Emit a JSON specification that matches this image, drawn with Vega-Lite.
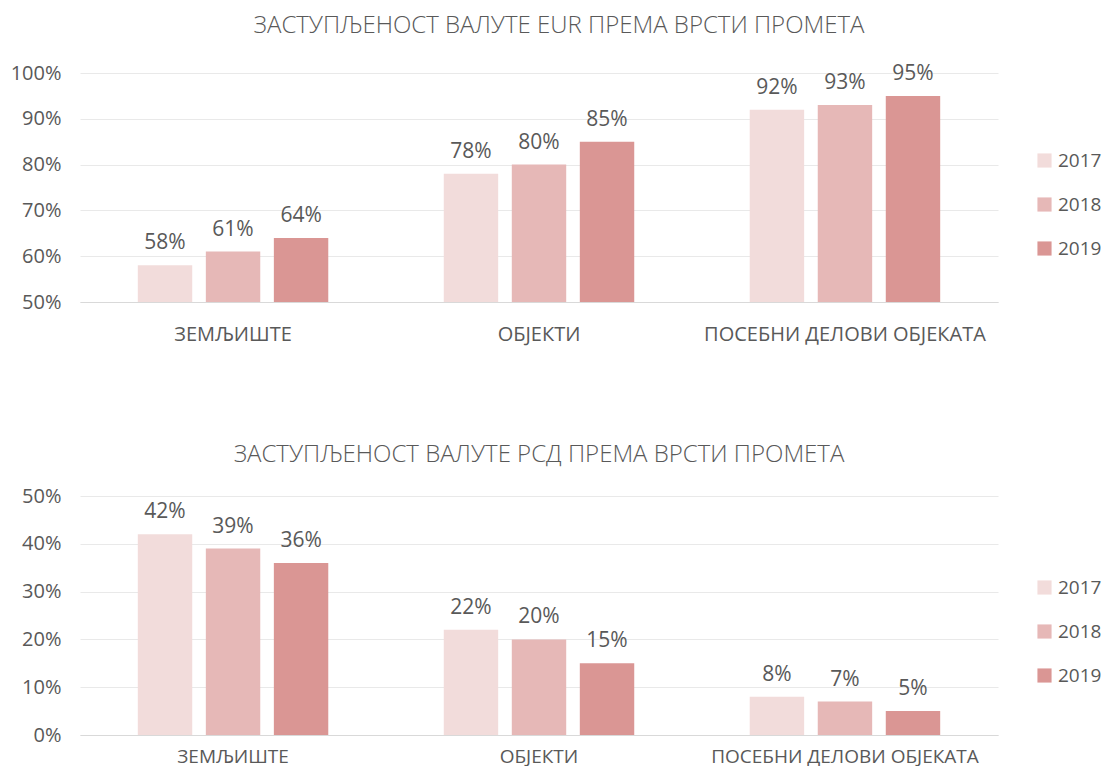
{
  "$schema": "https://vega.github.io/schema/vega-lite/v6.json",
  "padding": {"left": 10, "top": 13, "right": 5, "bottom": 0},
  "background": "white",
  "datasets": {
    "eur": [
      {"cat": "ЗЕМЉИШТЕ", "year": "2017", "v": 0.58},
      {"cat": "ЗЕМЉИШТЕ", "year": "2018", "v": 0.61},
      {"cat": "ЗЕМЉИШТЕ", "year": "2019", "v": 0.64},
      {"cat": "ОБЈЕКТИ", "year": "2017", "v": 0.78},
      {"cat": "ОБЈЕКТИ", "year": "2018", "v": 0.80},
      {"cat": "ОБЈЕКТИ", "year": "2019", "v": 0.85},
      {"cat": "ПОСЕБНИ ДЕЛОВИ ОБЈЕКАТА", "year": "2017", "v": 0.92},
      {"cat": "ПОСЕБНИ ДЕЛОВИ ОБЈЕКАТА", "year": "2018", "v": 0.93},
      {"cat": "ПОСЕБНИ ДЕЛОВИ ОБЈЕКАТА", "year": "2019", "v": 0.95}
    ],
    "rsd": [
      {"cat": "ЗЕМЉИШТЕ", "year": "2017", "v": 0.42},
      {"cat": "ЗЕМЉИШТЕ", "year": "2018", "v": 0.39},
      {"cat": "ЗЕМЉИШТЕ", "year": "2019", "v": 0.36},
      {"cat": "ОБЈЕКТИ", "year": "2017", "v": 0.22},
      {"cat": "ОБЈЕКТИ", "year": "2018", "v": 0.20},
      {"cat": "ОБЈЕКТИ", "year": "2019", "v": 0.15},
      {"cat": "ПОСЕБНИ ДЕЛОВИ ОБЈЕКАТА", "year": "2017", "v": 0.08},
      {"cat": "ПОСЕБНИ ДЕЛОВИ ОБЈЕКАТА", "year": "2018", "v": 0.07},
      {"cat": "ПОСЕБНИ ДЕЛОВИ ОБЈЕКАТА", "year": "2019", "v": 0.05}
    ]
  },
  "config": {
    "font": "Open Sans",
    "view": {"stroke": null},
    "axis": {"labelColor": "#595959", "ticks": false, "title": null, "labelLimit": 0},
    "axisX": {"domainColor": "#D9D9D9", "domainWidth": 1, "labelAngle": 0, "labelPadding": 22, "labelFontSize": 20, "grid": false},
    "axisY": {"domain": false, "gridColor": "#E9E9E9", "gridWidth": 1, "labelPadding": 19, "labelFontSize": 20, "format": ".0%"},
    "legend": {"labelColor": "#595959", "labelFontSize": 19, "symbolType": "square", "symbolSize": 200, "symbolStrokeWidth": 0, "rowPadding": 24, "labelOffset": 4, "padding": 0, "title": null},
    "title": {"color": "#595959", "fontSize": 24, "fontWeight": 300, "anchor": "middle"}
  },
  "resolve": {"legend": {"color": "independent"}},
  "align": "none",
  "bounds": "full",
  "columns": 1,
  "spacing": 99,
  "concat": [
    {
      "width": 918,
      "height": 229,
      "title": {"text": "ЗАСТУПЉЕНОСТ ВАЛУТЕ EUR ПРЕМА ВРСТИ ПРОМЕТА", "offset": 25, "frame": "group", "dx": 20},
      "data": {"name": "eur"},
      "encoding": {
        "x": {"field": "cat", "type": "nominal", "sort": null, "scale": {"paddingInner": 0.333, "paddingOuter": 0.1667}},
        "xOffset": {"field": "year", "type": "nominal", "scale": {"paddingInner": 0.2, "paddingOuter": 0.1}},
        "y": {"field": "v", "type": "quantitative", "scale": {"domain": [0.5, 1], "zero": false, "nice": false}, "axis": {"values": [0.5, 0.6, 0.7, 0.8, 0.9, 1.0], "minExtent": 70, "maxExtent": 70}}
      },
      "layer": [
        {
          "mark": {"type": "bar"},
          "encoding": {
            "y2": {"datum": 0.5},
            "color": {"field": "year", "type": "nominal", "scale": {"domain": ["2017", "2018", "2019"], "range": ["#F2DCDB", "#E6B8B7", "#DA9694"]}, "legend": {"orient": "none", "legendX": 955, "legendY": 78}}
          }
        },
        {
          "mark": {"type": "text", "baseline": "alphabetic", "dy": -16, "fontSize": 21, "color": "#595959"},
          "encoding": {"text": {"field": "v", "type": "quantitative", "format": ".0%"}}
        }
      ]
    },
    {
      "width": 918,
      "height": 239,
      "title": {"text": "ЗАСТУПЉЕНОСТ ВАЛУТЕ РСД ПРЕМА ВРСТИ ПРОМЕТА", "offset": 19, "frame": "group"},
      "data": {"name": "rsd"},
      "encoding": {
        "x": {"field": "cat", "type": "nominal", "sort": null, "scale": {"paddingInner": 0.333, "paddingOuter": 0.1667}, "axis": {"labelFontSize": 19, "labelPadding": 12}},
        "xOffset": {"field": "year", "type": "nominal", "scale": {"paddingInner": 0.2, "paddingOuter": 0.1}},
        "y": {"field": "v", "type": "quantitative", "scale": {"domain": [0, 0.5], "nice": false}, "axis": {"values": [0, 0.1, 0.2, 0.3, 0.4, 0.5], "minExtent": 64, "maxExtent": 64}}
      },
      "layer": [
        {
          "mark": {"type": "bar"},
          "encoding": {
            "color": {"field": "year", "type": "nominal", "scale": {"domain": ["2017", "2018", "2019"], "range": ["#F2DCDB", "#E6B8B7", "#DA9694"]}, "legend": {"orient": "none", "legendX": 955, "legendY": 82}}
          }
        },
        {
          "mark": {"type": "text", "baseline": "alphabetic", "dy": -16, "fontSize": 21, "color": "#595959"},
          "encoding": {"text": {"field": "v", "type": "quantitative", "format": ".0%"}}
        }
      ]
    }
  ]
}
